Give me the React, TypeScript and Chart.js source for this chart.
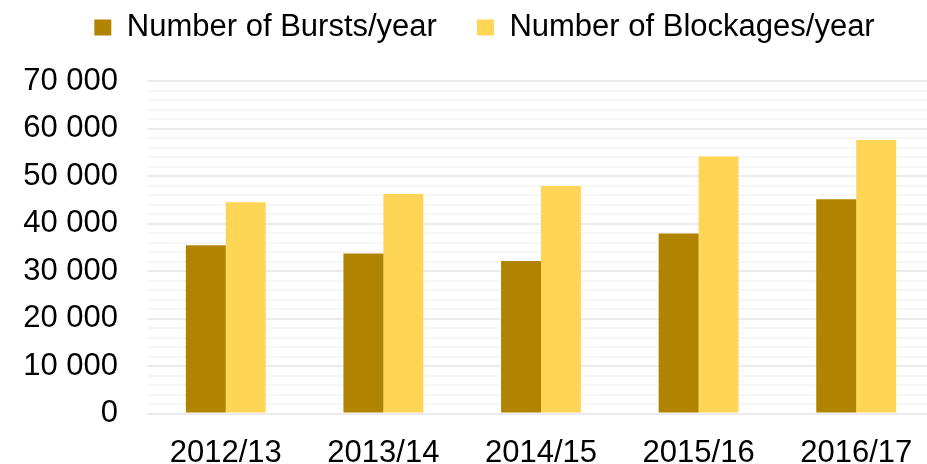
import React, { useEffect, useRef } from "react";
import { Chart, registerables } from "chart.js";

Chart.register(...registerables);

const categories = ["2012/13", "2013/14", "2014/15", "2015/16", "2016/17"];
const burstsLabel = "Number of Bursts/year";
const blockagesLabel = "Number of Blockages/year";
const bursts = [35400, 33700, 32100, 37900, 45100];
const blockages = [44500, 46200, 47900, 54100, 57600];
const yMin = 0;
const yMax = 70000;
const yMajorStep = 10000;
const yMinorStep = 2000;

const FONT = "'Liberation Sans', Arial, sans-serif";

function fmt(v: number): string {
  return String(v).replace(/\B(?=(\d{3})+(?!\d))/g, " ");
}

// Moves the legend box after layout (keeps chart area where it is)
const legendShift = {
  id: "legendShift",
  afterLayout(chart: any) {
    const lg = chart.legend;
    if (!lg) return;
    const dx = 17;
    const dy = -28;
    lg.left += dx;
    lg.right += dx;
    lg.top += dy;
    lg.bottom += dy;
  },
};

export default function App() {
  const ref = useRef<HTMLCanvasElement | null>(null);

  useEffect(() => {
    if (!ref.current) return;
    const chart = new Chart(ref.current, {
      type: "bar",
      data: {
        labels: categories,
        datasets: [
          {
            label: burstsLabel,
            data: bursts,
            backgroundColor: "#B08400",
            borderWidth: 0,
            categoryPercentage: 0.507,
            barPercentage: 1.0,
          },
          {
            label: blockagesLabel,
            data: blockages,
            backgroundColor: "#FFD555",
            borderWidth: 0,
            categoryPercentage: 0.507,
            barPercentage: 1.0,
          },
        ],
      },
      plugins: [legendShift],
      options: {
        responsive: false,
        animation: false,
        layout: { padding: { left: 0, right: 0, top: 0, bottom: 0 } },
        plugins: {
          legend: {
            position: "top",
            align: "center",
            labels: {
              color: "#000",
              font: { family: FONT, size: 31 },
              boxWidth: 17,
              boxHeight: 16,
              padding: 40,
            },
          },
          tooltip: { enabled: false },
        },
        scales: {
          x: {
            grid: { display: false, drawTicks: false },
            border: { display: false },
            ticks: {
              color: "#000",
              font: { family: FONT, size: 31 },
              padding: 21,
              maxRotation: 0,
              autoSkip: false,
            },
            afterFit: (s: any) => {
              s.height = 56.5;
            },
          },
          y: {
            min: yMin,
            max: yMax,
            grid: {
              drawTicks: false,
              color: (ctx: any) =>
                ctx.tick && ctx.tick.value % yMajorStep === 0 ? "#ebebeb" : "#f6f6f6",
              lineWidth: 2,
            },
            border: { display: false },
            ticks: {
              stepSize: yMinorStep,
              autoSkip: false,
              color: "#000",
              font: { family: FONT, size: 31 },
              padding: 29,
              callback: (v: any) => (Number(v) % yMajorStep === 0 ? fmt(Number(v)) : ""),
            },
            afterFit: (s: any) => {
              s.width = 147;
            },
          },
        },
      },
    });
    return () => chart.destroy();
  }, []);

  return (
    <div
      style={{
        position: "fixed",
        left: 0,
        top: 0,
        width: 927,
        height: 464,
        overflow: "hidden",
        background: "#fff",
      }}
    >
      <canvas ref={ref} width={935} height={470} style={{ display: "block" }} />
    </div>
  );
}
